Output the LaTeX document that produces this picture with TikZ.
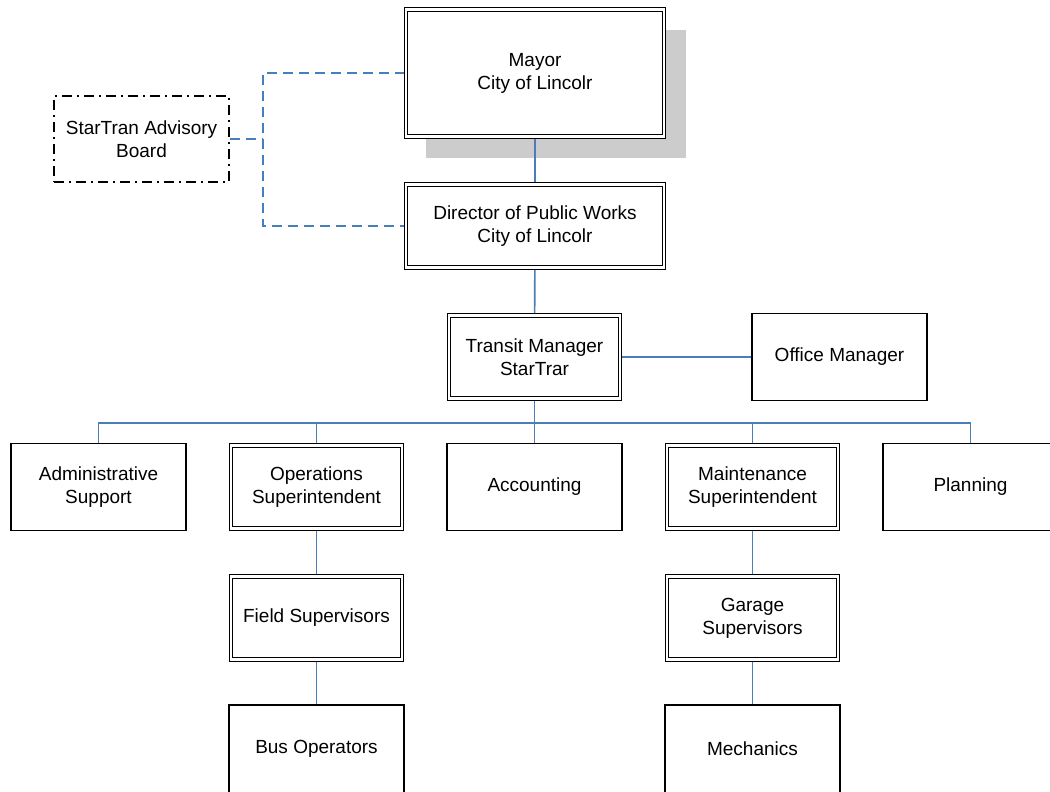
\documentclass[tikz,border=0pt]{standalone}
\usepackage{fontspec}
\setmainfont{Liberation Sans}
\usepackage{tikz}
\usetikzlibrary{backgrounds}
\definecolor{linkblue}{RGB}{74,126,187}
\definecolor{shadowgray}{RGB}{204,204,204}
\tikzset{
	unit/.style={rectangle, draw=black, fill=white, line width=1.4pt,
		minimum width=175pt, minimum height=87pt, inner sep=2pt,
		align=center, font=\fontsize{19}{23}\selectfont},
	dblunit/.style={unit, double=white, double distance=2.2pt, line width=1.2pt,
		minimum width=171pt, minimum height=83pt},
	board/.style={unit, dash pattern=on 10pt off 5pt on 2pt off 5pt},
	link/.style={draw=linkblue, line width=1.6pt},
	advise/.style={link, dash pattern=on 10pt off 6pt}
}

\begin{document}
\begin{tikzpicture}[x=1pt,y=-1pt]
	\useasboundingbox (0,0) rectangle (1050,792);
	\clip (0,0) rectangle (1050,792);

	\begin{scope}[every node/.style={dblunit}]
		\node[minimum width=258pt, minimum height=127pt] (mayor) at (535,73) {Mayor\\City of Lincolr};
		\node[minimum width=258pt] (dir) at (535,226) {Director of Public Works\\City of Lincolr};
		\node (tm) at (534.5,357) {Transit Manager\\StarTrar};
		\node (ops) at (316.5,487) {Operations\\Superintendent};
		\node (maint) at (752.5,487) {Maintenance\\Superintendent};
		\node (field) at (316.5,618) {Field Supervisors};
		\node (garage) at (752.5,618) {Garage\\Supervisors};
	\end{scope}

	\begin{scope}[every node/.style={unit}]
		\node (office) at (839.5,357) {Office Manager};
		\node (admin) at (98.5,487) {Administrative\\Support};
		\node (acct) at (534.5,487) {Accounting};
		\node (plan) at (970.5,487) {Planning};
		\node[minimum height=88pt] (busop) at (316.5,749) {Bus Operators};
		\node[minimum height=88pt] (mech) at (752.5,749) {Mechanics};
		\node[board, minimum height=86pt] (adv) at (141.5,139) {StarTran Advisory\\Board};
	\end{scope}

	\coordinate (bus) at (534.5,423);
	\coordinate (join) at (263,139);

	% shadow and connectors go behind the boxes
	\begin{scope}[on background layer]
		\fill[shadowgray] ([shift={(21pt,-21pt)}]mayor.south west) rectangle ([shift={(21pt,-21pt)}]mayor.north east);

		\draw[advise] (mayor.west) -| (join) |- (dir.west);
		\draw[advise] (adv.east) -- (join);

		\path[link] (mayor) edge (dir);
		\path[link] (dir) edge (tm);
		\path[link] (tm) edge (office);
		\draw[link] (tm) -- (bus);
		\draw[link] (admin.north) |- (bus) -| (plan.north);
		\foreach \n in {ops,acct,maint}
			\draw[link] (\n.north) |- (bus);
		\path[link] (ops) edge (field);
		\path[link] (field) edge (busop);
		\path[link] (maint) edge (garage);
		\path[link] (garage) edge (mech);
	\end{scope}
\end{tikzpicture}
\end{document}
